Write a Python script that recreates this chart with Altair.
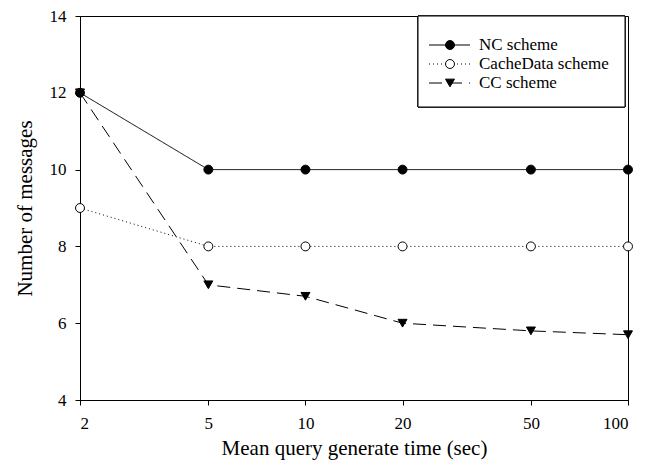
import altair as alt
import pandas as pd

x_vals = [2, 5, 10, 20, 50, 100]
series_names = ["NC scheme", "CacheData scheme", "CC scheme"]
nc = [12, 10, 10, 10, 10, 10]
cache = [9, 8, 8, 8, 8, 8]
cc = [12, 7, 6.7, 6, 5.8, 5.7]
x_ticks = [2, 5, 10, 20, 50, 100]
y_ticks = [4, 6, 8, 10, 12, 14]

rows = []
for name, vals in zip(series_names, [nc, cache, cc]):
    for xv, yv in zip(x_vals, vals):
        rows.append({"x": xv, "y": yv, "series": name})
df = pd.DataFrame(rows)
leg = pd.DataFrame({"series": series_names, "lseries": series_names})

FONT = "Liberation Serif"
dash_scale = alt.Scale(domain=series_names, range=[[1, 0], [1, 3], [13, 7]])
shape_scale = alt.Scale(domain=series_names, range=["circle", "circle", "triangle-down"])
fill_scale = alt.Scale(domain=series_names, range=["black", "white", "black"])

xenc = alt.X("x:Q", scale=alt.Scale(type="log", domain=[2, 100], nice=False),
             axis=alt.Axis(values=x_ticks, format="d", title="Mean query generate time (sec)"))
yenc = alt.Y("y:Q", scale=alt.Scale(domain=[4, 14], nice=False),
             axis=alt.Axis(values=y_ticks, title="Number of messages"))

lines = alt.Chart(df).mark_line(color="black", strokeWidth=1).encode(
    x=xenc, y=yenc,
    strokeDash=alt.StrokeDash("series:N", scale=dash_scale, legend=None),
)
points = alt.Chart(df).mark_point(filled=True, stroke="black", strokeWidth=1, size=80, opacity=1).encode(
    x=xenc, y=yenc,
    shape=alt.Shape("series:N", scale=shape_scale, legend=None),
    fill=alt.Fill("series:N", scale=fill_scale, legend=None),
)
main = alt.layer(lines, points)

box = alt.Chart(leg).mark_rect(fill="white", stroke="black", strokeWidth=1).encode(
    x=alt.value(338), x2=alt.value(545), y=alt.value(0), y2=alt.value(91)
)
ly = alt.Y("series:N", scale=alt.Scale(type="point", domain=series_names, range=[29, 67], padding=0), axis=None)
lrule = alt.Chart(leg).mark_rule(color="black", strokeWidth=1).encode(
    x=alt.value(349), x2=alt.value(390), y=ly,
    strokeDash=alt.StrokeDash("lseries:N", scale=alt.Scale(domain=series_names, range=[[1, 0], [1, 3], [1, 0]]), legend=None),
)
lpt = alt.Chart(leg).mark_point(filled=True, stroke="black", strokeWidth=1, size=80, opacity=1).encode(
    x=alt.value(370), y=ly,
    shape=alt.Shape("series:N", scale=shape_scale, legend=None),
    fill=alt.Fill("series:N", scale=fill_scale, legend=None),
)
ltext = alt.Chart(leg).mark_text(align="left", baseline="middle", font=FONT, fontSize=17, color="black").encode(
    x=alt.value(399), y=ly, text="series:N"
)
legend = alt.layer(box, lrule, lpt, ltext)

chart = alt.layer(main, legend).resolve_scale(y="independent").properties(
    width=548, height=384,
    autosize=alt.AutoSizeParams(type="none"),
    padding={"left": 72, "top": 8, "right": 10, "bottom": 63},
).configure_view(stroke="black", strokeWidth=1).configure_axis(
    grid=False, domainColor="black", tickColor="black", tickSize=5,
    labelColor="black", titleColor="black", labelFont=FONT, titleFont=FONT,
    labelFontSize=17, titleFontSize=21, titleFontWeight="normal", labelPadding=9,
).configure_axisY(titlePadding=14).configure_axisX(titlePadding=6, labelPadding=10)

chart.save("out.html", embed_options={"renderer": "svg", "actions": False})
